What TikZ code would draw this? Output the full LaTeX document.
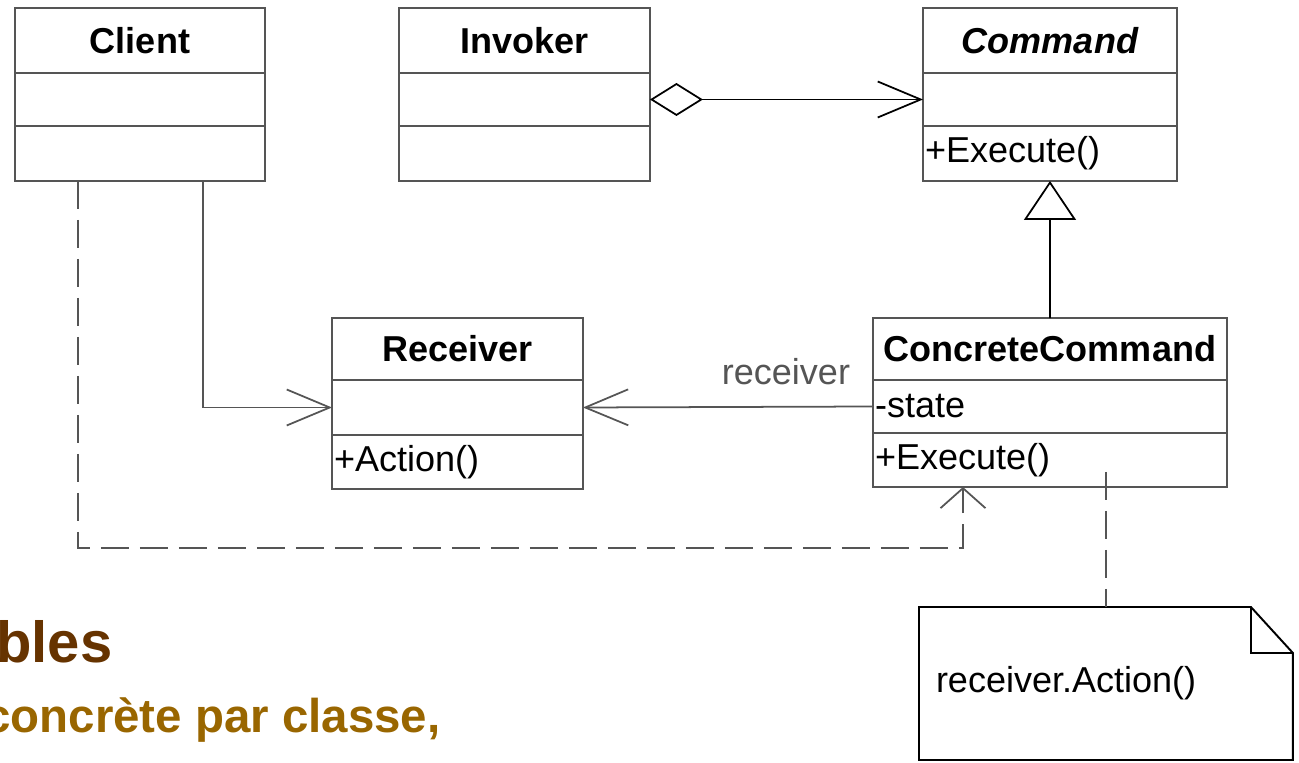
\documentclass[tikz,border=0pt]{standalone}
\usepackage{fontspec}
\setmainfont{Liberation Sans}
\usepackage{tikz}
\usetikzlibrary{arrows.meta,positioning}

\definecolor{umlline}{RGB}{85,85,85}
\definecolor{titlebrown}{RGB}{102,51,0}
\definecolor{subbrown}{RGB}{153,102,0}

\tikzset{
  classname/.style={draw=umlline, line width=1.1pt, font=\bfseries, inner sep=0pt, outer sep=0pt},
  compartment/.style={draw=umlline, line width=1.1pt, align=left, inner xsep=0.04cm, inner ysep=0pt, outer sep=0pt},
  assoc/.style={draw=umlline, line width=1pt, -{Straight Barb[length=0.86cm, width=0.72cm]}},
  agg/.style={draw=black, line width=1pt, {Diamond[open, length=1.06cm, width=0.66cm]}-{Straight Barb[length=0.86cm, width=0.72cm]}},
  gen/.style={draw=black, line width=1pt, -{Triangle[open, length=0.78cm, width=1.04cm]}},
  dep/.style={draw=umlline, line width=1pt, dash pattern=on 0.56cm off 0.22cm},
  notebox/.style={align=left, inner xsep=0.34cm, inner ysep=0pt, outer sep=0pt},
  noteline/.style={draw=black, line width=1.1pt}
}

\begin{document}
\fontsize{20.5}{24}\selectfont
\begin{tikzpicture}[x=0.02cm, y=-0.02cm]
  \useasboundingbox (0,0) rectangle (1299,762);

  % Client
  \node[classname, minimum width=5cm, minimum height=1.3cm, anchor=north west] (client) at (15,8) {Client};
  \node[compartment, text width=4.92cm, minimum height=1.06cm, below=0pt of client] (client-attr) {};
  \node[compartment, text width=4.92cm, minimum height=1.1cm, below=0pt of client-attr] (client-op) {};

  % Invoker
  \node[classname, minimum width=5.02cm, minimum height=1.3cm, anchor=north west] (invoker) at (399,8) {Invoker};
  \node[compartment, text width=4.94cm, minimum height=1.06cm, below=0pt of invoker] (invoker-attr) {};
  \node[compartment, text width=4.94cm, minimum height=1.1cm, below=0pt of invoker-attr] (invoker-op) {};

  % Command
  \node[classname, minimum width=5.08cm, minimum height=1.3cm, anchor=north west, font=\bfseries\itshape] (command) at (923,8) {Command};
  \node[compartment, text width=5cm, minimum height=1.06cm, below=0pt of command] (command-attr) {};
  \node[compartment, text width=5cm, minimum height=1.1cm, below=0pt of command-attr] (command-op) {+Execute()};

  % Receiver
  \node[classname, minimum width=5.02cm, minimum height=1.24cm, anchor=north west] (receiver) at (332,318) {Receiver};
  \node[compartment, text width=4.94cm, minimum height=1.1cm, below=0pt of receiver] (receiver-attr) {};
  \node[compartment, text width=4.94cm, minimum height=1.08cm, below=0pt of receiver-attr] (receiver-op) {+Action()};

  % ConcreteCommand
  \node[classname, minimum width=7.08cm, minimum height=1.24cm, anchor=north west] (concrete) at (873,318) {ConcreteCommand};
  \node[compartment, text width=7cm, minimum height=1.06cm, below=0pt of concrete] (concrete-attr) {-state};
  \node[compartment, text width=7cm, minimum height=1.08cm, below=0pt of concrete-attr] (concrete-op) {+Execute()};

  % note
  \node[notebox, text width=6.8cm, minimum height=3.06cm, anchor=north west] (note) at (919,607) {receiver.Action()};
  \draw[noteline] (note.north west) -- ([xshift=-0.84cm]note.north east) -- ([yshift=-0.92cm]note.north east)
    -- (note.south east) -- (note.south west) -- cycle;
  \draw[noteline] ([xshift=-0.84cm]note.north east) |- ([yshift=-0.92cm]note.north east);

  % relations
  \draw[agg] (invoker-attr.east) -- (command-attr.west);
  \draw[gen] (concrete.north) -- (command-op.south);
  \draw[assoc] ([xshift=3.76cm]client-op.south west) |- (receiver-attr.west);
  \draw[assoc] (concrete-attr.west) -- node[pos=0.3, anchor=base, yshift=0.44cm, text=umlline] {receiver} (receiver-attr.east);
  \coordinate (dep-end) at ([xshift=1.8cm]concrete-op.south west);
  \draw[dep] ([xshift=1.26cm]client-op.south west) -- ++(0,-7.34cm) -| (dep-end);
  \draw[umlline, line width=1pt, -{Straight Barb[length=0.4cm, width=0.9cm]}] ([yshift=-0.5cm]dep-end) -- (dep-end);
  \coordinate (note-link) at ([xshift=4.66cm, yshift=0.3cm]concrete-op.south west);
  \draw[dep] (note-link) -- (note-link |- note.north);

  % slide text behind the diagram
  \node[anchor=base west, inner sep=0pt, font=\fontsize{33}{38}\selectfont\bfseries, text=titlebrown] (title) at (-4,662) {bles};
  \node[anchor=base west, inner sep=0pt, font=\fontsize{27}{32}\selectfont\bfseries, text=subbrown] (subtitle) at (-16,732) {concrète par classe,};
\end{tikzpicture}
\end{document}
